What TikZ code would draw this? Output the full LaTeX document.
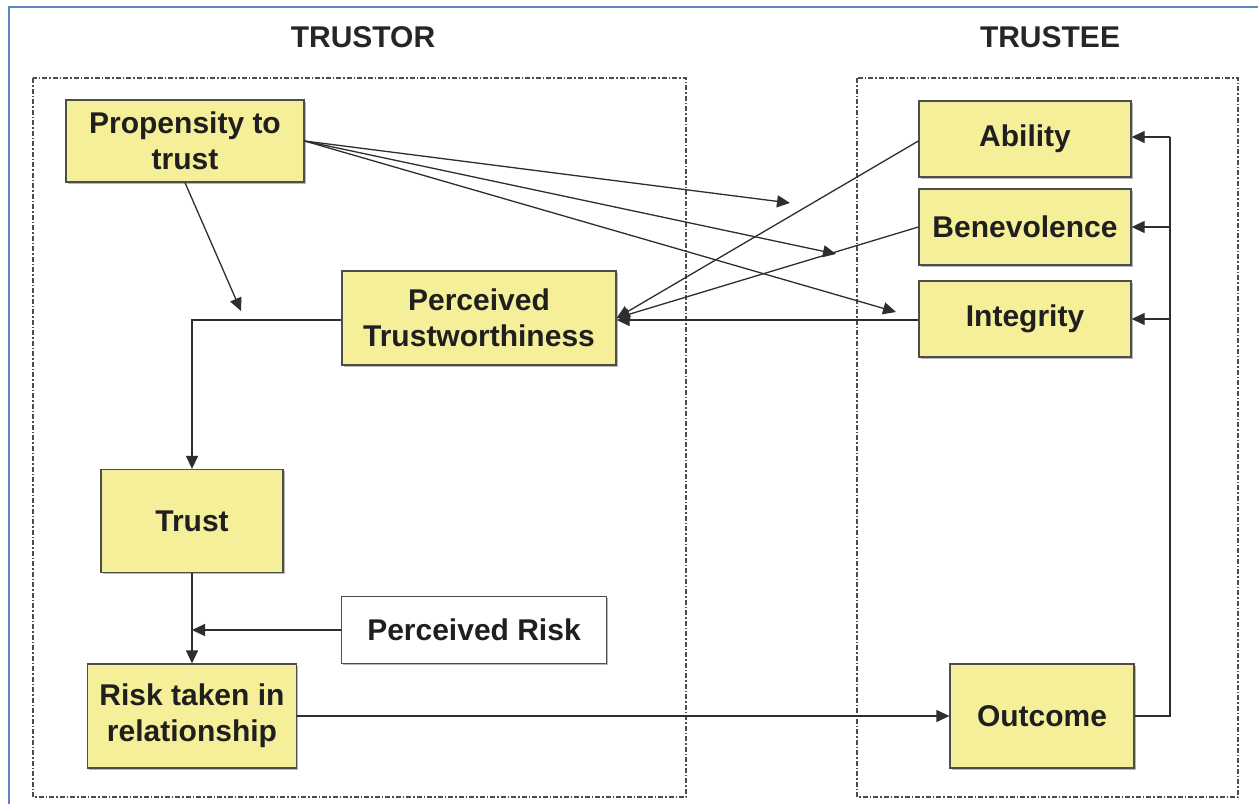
\documentclass[tikz,border=0pt]{standalone}
\usepackage{fontspec}
\setmainfont{Liberation Sans}
\usetikzlibrary{arrows.meta,shadows}
\definecolor{boxyellow}{HTML}{F6EF99}
\definecolor{frameblue}{HTML}{5A86C2}
\definecolor{linegray}{HTML}{2E2E2E}
\tikzset{
  ybox/.style={draw=linegray!85, line width=1.3pt, fill=boxyellow, align=center,
    inner sep=0pt, font=\fontsize{30}{36}\selectfont\bfseries, text=black!88,
    drop shadow={shadow xshift=1.6pt, shadow yshift=-1.6pt, fill=black!35, opacity=0.8}},
  wbox/.style={ybox, fill=white},
  grp/.style={draw=black!70, line width=1.2pt, dash pattern=on 5pt off 2pt on 1.5pt off 2pt},
  conn/.style={draw=linegray, line width=1.3pt},
  arr/.style={conn, -{Triangle[length=13pt,width=12pt]}},
  ttl/.style={font=\fontsize{30}{34}\selectfont\bfseries, text=black!85}
}
\begin{document}
\begin{tikzpicture}[x=1pt,y=-1pt]
\useasboundingbox (0,0) rectangle (1258,803);
\fill[white] (0,0) rectangle (1258,803);
% blue frame
\draw[frameblue, line width=2.6pt] (9,810) -- (9,7) -- (1270,7);
% group boxes
\draw[grp] (33,78) rectangle (686,797);
\draw[grp] (857,78) rectangle (1238,797);
\node[ttl] (ttor) at (363,37) {TRUSTOR};
\node[ttl] (ttee) at (1050,37) {TRUSTEE};
% nodes
\node[ybox, minimum width=238pt, minimum height=82pt] (prop) at (185,141) {Propensity to\\trust};
\node[ybox, minimum width=274pt, minimum height=94pt] (pt) at (479,318) {Perceived\\Trustworthiness};
\node[ybox, minimum width=182pt, minimum height=103pt] (trust) at (192,521) {Trust};
\node[wbox, minimum width=265pt, minimum height=67pt] (prisk) at (474,630) {Perceived Risk};
\node[ybox, minimum width=209pt, minimum height=104pt] (risk) at (192,716) {Risk taken in\\relationship};
\node[ybox, minimum width=212pt, minimum height=76pt] (abil) at (1025,139) {Ability};
\node[ybox, minimum width=212pt, minimum height=76pt] (bene) at (1025,227) {Benevolence};
\node[ybox, minimum width=212pt, minimum height=76pt] (integ) at (1025,319) {Integrity};
\node[ybox, minimum width=184pt, minimum height=104pt] (outc) at (1042,716) {Outcome};
% free ends
\coordinate (pa) at (790,203);
\coordinate (pb) at (836,254);
\coordinate (pc) at (896,312);
\coordinate (pd) at (241,311);
\coordinate (ptcorner) at (192,320);
\coordinate (rj) at (192,630);
\coordinate (fb) at (1170,716);
% connectors
\draw[arr] (prop.east) -- (pa);
\draw[arr] (prop.east) -- (pb);
\draw[arr] (prop.east) -- (pc);
\draw[arr] (prop.south) -- (pd);
\draw[arr] (pt.west |- 0,320) -- (ptcorner) -- (trust.north);
\draw[arr] ([yshift=-2pt]abil.west) -- (pt.east);
\draw[arr] (bene.west) -- (pt.east);
\draw[arr] (integ.west |- 0,320) -- (pt.east |- 0,320);
\draw[arr] (trust.south) -- (risk.north);
\draw[arr] (prisk.west) -- (rj);
\draw[arr] (risk.east) -- (outc.west);
\draw[conn] (outc.east) -- (fb) -- (1170,137);
\draw[arr] (1170,137) -- (abil.east |- 0,137);
\draw[arr] (1170,227) -- (bene.east);
\draw[arr] (1170,319) -- (integ.east);
\end{tikzpicture}
\end{document}
